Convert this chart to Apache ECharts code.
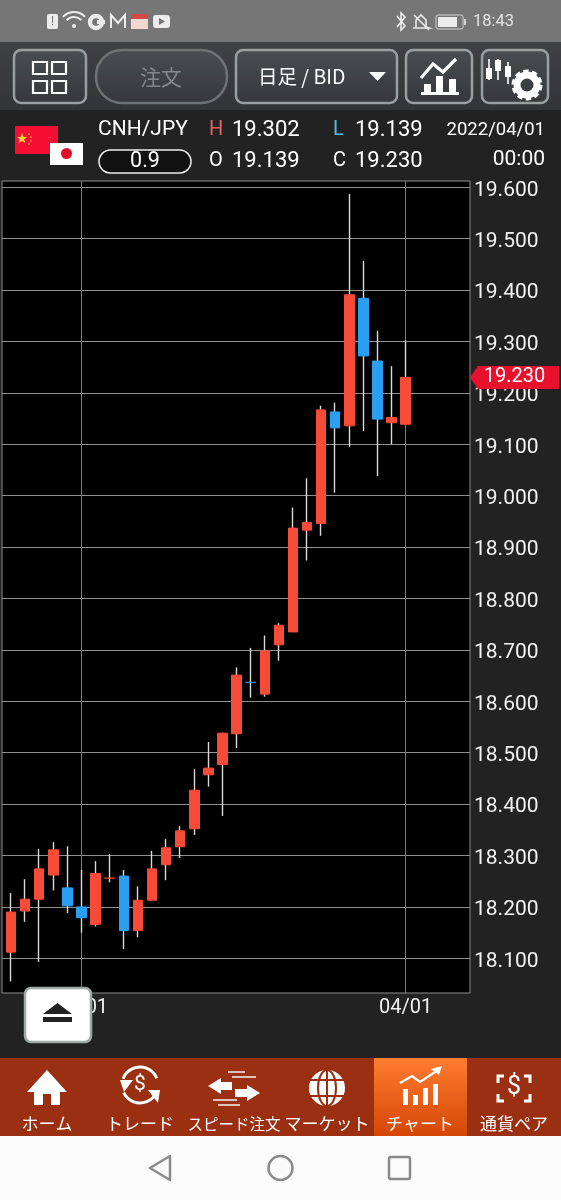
<!DOCTYPE html>
<html>
<head>
<meta charset="utf-8">
<title>CNH/JPY</title>
<script src="https://cdn.jsdelivr.net/npm/echarts@6/dist/echarts.min.js"></script>
<style>
  html, body { margin: 0; padding: 0; background: #222; }
  #chart-container { width: 561px; height: 1200px; }
</style>
</head>
<body>
<div id="chart-container"></div>
<script>
const fechas = ['02/22','02/23','02/24','02/25','02/28','03/01','03/02','03/03','03/04','03/07','03/08','03/09','03/10','03/11','03/14','03/15','03/16','03/17','03/18','03/21','03/22','03/23','03/24','03/25','03/28','03/29','03/30','03/31','04/01'];
const opens  = [18.112,18.192,18.215,18.262,18.237,18.200,18.166,18.2555,18.260,18.154,18.213,18.282,18.317,18.352,18.457,18.477,18.537,18.6375,18.614,18.710,18.735,18.933,18.946,19.163,19.136,19.384,19.262,19.142,19.139];
const closes = [18.190,18.215,18.274,18.311,18.202,18.179,18.265,18.2565,18.154,18.213,18.274,18.315,18.348,18.427,18.470,18.538,18.651,18.6365,18.698,18.748,18.937,18.948,19.167,19.132,19.391,19.272,19.149,19.152,19.230];
const lows   = [18.055,18.171,18.093,18.232,18.188,18.150,18.162,18.248,18.118,18.141,18.213,18.252,18.295,18.340,18.434,18.377,18.509,18.607,18.609,18.679,18.735,18.874,18.922,19.006,19.095,19.126,19.038,19.100,19.139];
const highs  = [18.227,18.254,18.313,18.326,18.318,18.272,18.289,18.303,18.272,18.240,18.309,18.332,18.357,18.468,18.521,18.539,18.666,18.704,18.728,18.752,18.977,19.034,19.175,19.181,19.587,19.457,19.321,19.252,19.302];
const precios = [18.1,18.2,18.3,18.4,18.5,18.6,18.7,18.8,18.9,19.0,19.1,19.2,19.3,19.4,19.5,19.6];
const fechasMarcadas = ['03/01','04/01'];

const ROJO = '#f54b37';
const AZUL = '#2a9ff2';
const FUENTE = 'Roboto, sans-serif';
const FUENTE_JP = '"Noto Sans CJK JP", sans-serif';
const X_MIN = -0.64;
const X_MAX = 32.56;

let myChart = echarts.init(document.getElementById('chart-container'), null, { renderer: 'canvas' });

// helpers para la parte de la app que no es grafico
function rect(x, y, w, h, fill, extra) {
  return Object.assign({ type: 'rect', z: 100, shape: { x, y, width: w, height: h }, style: { fill } }, extra || {});
}
function caja(x, y, w, h, r, fill, stroke, lw) {
  return { type: 'rect', z: 100, shape: { x, y, width: w, height: h, r }, style: { fill, stroke, lineWidth: lw } };
}
function texto(text, x, y, fill, size, align, fuente) {
  return { type: 'text', z: 102, style: { text, x, y, fill, font: size + 'px ' + (fuente || FUENTE), textAlign: align || 'left', textVerticalAlign: 'middle' } };
}
function poli(points, fill) {
  return { type: 'polygon', z: 102, shape: { points }, style: { fill } };
}
function linea(points, stroke, lw) {
  return { type: 'polyline', z: 102, shape: { points }, style: { stroke, lineWidth: lw, fill: 'none' } };
}
function circ(cx, cy, r, fill, stroke, lw, dash) {
  return { type: 'circle', z: 102, shape: { cx, cy, r }, style: { fill, stroke, lineWidth: lw || 0, lineDash: dash } };
}
function arco(cx, cy, r, a, b, stroke, lw) {
  return { type: 'arc', z: 102, shape: { cx, cy, r, startAngle: a, endAngle: b }, style: { stroke, lineWidth: lw, fill: 'none' } };
}
function grad(c1, c2) {
  return new echarts.graphic.LinearGradient(0, 0, 0, 1, [{ offset: 0, color: c1 }, { offset: 1, color: c2 }]);
}

function barraEstado() {
  const c = '#ececec';
  return [
    rect(0, 0, 561, 42, '#767676'),
    caja(47, 14, 11, 15, 2, c), texto('!', 52.5, 21.5, '#767676', 12, 'center'),
    arco(74, 27, 15, -2.4, -0.75, c, 2), arco(74, 27, 10, -2.4, -0.75, c, 2), circ(74, 26, 2, c),
    circ(96, 22, 6, 'none', c, 4.5),
    rect(97, 20, 8, 4, c),
    linea([[111, 28], [111, 15], [118, 23], [125, 15], [125, 28]], c, 2),
    rect(131, 17, 17, 12, '#f0d8d0'), rect(131, 14, 17, 5, '#d04a4a'),
    caja(153, 15, 17, 13, 3, c), poli([[159, 18], [159, 25], [165, 21.5]], '#767676'),
    linea([[397, 16], [405, 26], [401, 30], [401, 13], [405, 17], [397, 27]], c, 1.6),
    linea([[416, 27], [416, 20], [421, 15], [426, 20], [426, 27], [429, 28], [413, 28]], c, 1.6),
    linea([[414, 15], [429, 30]], c, 1.6),
    caja(436, 15, 27, 14, 2, 'none', '#d0d0d0', 1),
    rect(438, 17, 19, 10, c),
    rect(464, 19, 2, 6, '#d0d0d0'),
    texto('18:43', 514, 22, '#e4e4e4', 16.5, 'right')
  ];
}

function barraHerramientas() {
  const borde = '#9aa0a0';
  const fondo = grad('#4b4e50', '#35373a');
  const els = [
    rect(0, 42, 561, 68, grad('#3f4143', '#323436')),
    caja(14, 50, 72, 53, 7, fondo, borde, 2.5),
    caja(96, 50, 131, 53, 26, fondo, '#6f7374', 2.5),
    caja(236, 50, 161, 53, 7, fondo, borde, 2.5),
    caja(406, 50, 66, 53, 7, fondo, borde, 2.5),
    caja(482, 50, 66, 53, 7, fondo, borde, 2.5),
    texto('注文', 161, 77, '#85888a', 21, 'center', FUENTE_JP),
    texto('日足 / BID', 258, 77, '#ffffff', 19.5, 'left', FUENTE_JP),
    poli([[369, 72], [386, 72], [377.5, 81]], '#ffffff')
  ];
  // cuatro cuadros
  [[33, 62], [52, 62], [33, 81], [52, 81]].forEach(([x, y]) => {
    els.push({ type: 'rect', z: 102, shape: { x, y, width: 14, height: 12 }, style: { fill: 'none', stroke: '#fff', lineWidth: 2.2 } });
  });
  // icono grafico
  els.push(
    rect(421, 92, 38, 3, '#fff', { z: 102 }),
    rect(424, 84, 7, 8, '#fff', { z: 102 }),
    rect(436, 76, 7, 16, '#fff', { z: 102 }),
    rect(449, 79, 7, 13, '#fff', { z: 102 }),
    linea([[421, 78], [433, 64], [443, 72], [456, 59]], '#fff', 3.2)
  );
  // icono velas y engranaje
  [[489, 68, 61, 75, 59, 80], [498, 60, 67, 70, 59, 80], [508, 66, 73, 78, 62, 84]].forEach(([x, y, h2, h3, a, b]) => {
    els.push(linea([[x, a], [x, b]], '#fff', 1.6));
    els.push(rect(x - 3, y, 6, 11, '#fff', { z: 102 }));
  });
  els.push(circ(527, 85, 13, 'none', '#fff', 5, [5, 3.2]), circ(527, 85, 10, 'none', '#fff', 7));
  return els;
}

function cabecera() {
  return [
    rect(0, 110, 561, 70, '#222222'),
    rect(15, 126, 43, 28, '#f70f33'),
    poli([[22, 133], [23.5, 137], [27, 137], [24, 139.5], [25.5, 143], [22, 141], [18.5, 143], [20, 139.5], [17, 137], [20.5, 137]], '#ffd93b'),
    circ(29, 134, 0.8, '#ffd93b'), circ(31, 137, 0.8, '#ffd93b'), circ(31, 141, 0.8, '#ffd93b'), circ(29, 144, 0.8, '#ffd93b'),
    rect(50, 143, 33, 22, '#ffffff'),
    circ(66.5, 153.5, 5.5, '#e0102a'),
    texto('CNH/JPY', 98, 130, '#ffffff', 21),
    caja(99, 150, 92, 23, 11.5, '#111', '#f0f0f0', 1.5),
    texto('0.9', 145, 162, '#ffffff', 21.5, 'center'),
    texto('H', 209, 130, '#e86060', 20),
    texto('19.302', 232, 130, '#ffffff', 22),
    texto('L', 333, 130, '#50c0ea', 20),
    texto('19.139', 355, 130, '#ffffff', 22),
    texto('O', 209, 161, '#ffffff', 20),
    texto('19.139', 232, 161, '#ffffff', 22),
    texto('C', 333, 161, '#ffffff', 20),
    texto('19.230', 355, 161, '#ffffff', 22),
    texto('2022/04/01', 545, 130, '#ffffff', 18.5, 'right'),
    texto('00:00', 545, 160, '#ffffff', 21, 'right')
  ];
}

function botonExpulsar() {
  return [
    caja(25, 988, 66, 54, 6, '#ffffff', '#a0a8a8', 2.5),
    poli([[43, 1014], [72, 1014], [57.5, 1003]], '#222'),
    rect(43, 1017, 29, 5, '#222', { z: 102 })
  ];
}

function navegacion() {
  const b = '#ffffff';
  const f = '#9b2f12';
  const els = [
    rect(0, 1058, 561, 78, f),
    rect(374, 1058, 93, 78, grad('#ff7d31', '#d44605')),
    // inicio
    poli([[27, 1092], [47, 1070], [67, 1092]], b),
    rect(34, 1090, 26, 15, b, { z: 102 }),
    rect(43, 1094, 8, 11, f, { z: 103 }),
    // trade
    arco(140, 1085, 18, 3.5, 5.9, b, 3), arco(140, 1085, 18, 0.4, 2.7, b, 3),
    poli([[120, 1080], [133, 1080], [124, 1092]], b), poli([[148, 1090], [160, 1090], [158, 1103]], b),
    texto('$', 140, 1085, b, 21, 'center'),
    // speed
    poli([[208, 1086], [221, 1078], [221, 1082], [232, 1082], [232, 1090], [221, 1090], [221, 1094]], b),
    poli([[260, 1093], [247, 1085], [247, 1089], [235, 1089], [235, 1097], [247, 1097], [247, 1101]], b),
    linea([[228, 1072], [245, 1072]], b, 1.4), linea([[232, 1077], [256, 1077]], b, 1.4),
    linea([[213, 1100], [237, 1100]], b, 1.4), linea([[218, 1105], [240, 1105]], b, 1.4),
    // mundo
    circ(327, 1088, 18, b),
    linea([[309, 1080], [345, 1080]], f, 2), linea([[309, 1096], [345, 1096]], f, 2), linea([[327, 1070], [327, 1106]], f, 2),
    { type: 'ellipse', z: 103, shape: { cx: 327, cy: 1088, rx: 9, ry: 18 }, style: { fill: 'none', stroke: f, lineWidth: 2 } },
    // chart
    rect(403, 1089, 5, 16, b, { z: 102 }), rect(413, 1095, 5, 10, b, { z: 102 }), rect(423, 1088, 5, 17, b, { z: 102 }), rect(433, 1084, 5, 21, b, { z: 102 }),
    linea([[400, 1083], [412, 1076], [420, 1082], [438, 1070]], b, 2.2),
    poli([[431, 1069], [442, 1066], [439, 1075]], b),
    // pares
    linea([[504, 1076], [498, 1076], [498, 1083]], b, 3), linea([[524, 1076], [530, 1076], [530, 1083]], b, 3),
    linea([[498, 1094], [498, 1101], [504, 1101]], b, 3), linea([[530, 1094], [530, 1101], [524, 1101]], b, 3),
    texto('$', 514, 1088, b, 25, 'center')
  ];
  [['ホーム', 47, 17], ['トレード', 140, 17], ['スピード注文', 234, 15.5], ['マーケット', 327, 17], ['チャート', 420, 17], ['通貨ペア', 514, 17]].forEach(([t, x, s]) => {
    els.push(texto(t, x, 1124, b, s, 'center', FUENTE_JP));
  });
  // barra del sistema
  els.push(
    rect(0, 1136, 561, 64, '#fbfbfb'),
    { type: 'polygon', z: 102, shape: { points: [[150, 1168], [170, 1156], [170, 1180]] }, style: { fill: 'none', stroke: '#8a8a8a', lineWidth: 2.5, lineJoin: 'round' } },
    circ(280.5, 1168, 12, 'none', '#8a8a8a', 2.5),
    { type: 'rect', z: 102, shape: { x: 389, y: 1157, width: 21, height: 22, r: 2 }, style: { fill: 'none', stroke: '#8a8a8a', lineWidth: 2.5 } }
  );
  return els;
}

const ejeX = fechas.map((f, i) => i);
const marcas = fechasMarcadas.map(f => fechas.indexOf(f));

const opciones = {
  backgroundColor: '#222222',
  animation: false,
  grid: {
    left: 2, top: 181, width: 468, height: 812,
    show: true, backgroundColor: '#000000', borderColor: '#8c8c8c', borderWidth: 1
  },
  xAxis: {
    type: 'value',
    min: X_MIN,
    max: X_MAX,
    axisLine: { show: false },
    axisTick: { show: false, customValues: marcas },
    splitLine: { show: true, lineStyle: { color: '#7c7c7c', width: 1 } },
    axisLabel: {
      customValues: marcas,
      formatter: v => fechas[v],
      color: '#f0f0f0',
      fontFamily: 'Roboto',
      fontSize: 20,
      margin: 5
    }
  },
  yAxis: {
    type: 'value',
    position: 'right',
    min: 18.0325,
    max: 19.6123,
    axisLine: { show: false },
    axisTick: { show: false, customValues: precios },
    splitLine: { show: true, lineStyle: { color: '#8f8f8f', width: 1 } },
    axisLabel: {
      customValues: precios,
      formatter: v => '{n|' + v.toFixed(3) + '}',
      margin: 4,
      rich: {
        // la etiqueta queda 3px mas baja que la linea
        n: { color: '#f2f2f2', fontFamily: 'Roboto', fontSize: 21, padding: [6, 0, 0, 0] }
      }
    }
  },
  series: [
    {
      // mechas
      type: 'candlestick',
      barWidth: 1,
      clip: false,
      data: ejeX.map(i => [i, opens[i], closes[i], lows[i], highs[i]]),
      itemStyle: { color: '#d9d9d9', color0: '#d9d9d9', borderColor: '#d9d9d9', borderColor0: '#d9d9d9', borderWidth: 1.4 }
    },
    {
      // cuerpos
      type: 'candlestick',
      barWidth: 10,
      clip: false,
      data: ejeX.map(i => {
        const valor = [i, opens[i], closes[i], Math.min(opens[i], closes[i]), Math.max(opens[i], closes[i])];
        // los doji casi no se ven en la captura
        return Math.abs(opens[i] - closes[i]) < 0.002 ? { value: valor, itemStyle: { borderWidth: 0.6 } } : valor;
      }),
      itemStyle: { color: ROJO, color0: AZUL, borderColor: ROJO, borderColor0: AZUL, borderWidth: 1 },
      markPoint: {
        z: 20,
        symbol: 'path://M0 12 L8 0 L89 0 L89 24 L8 24 Z',
        symbolKeepAspect: false,
        symbolSize: [89, 23],
        symbolOffset: [44.5, 0],
        itemStyle: { color: '#e8112d' },
        label: {
          show: true,
          position: 'inside',
          formatter: p => p.value.toFixed(3),
          color: '#ffffff',
          fontFamily: 'Roboto',
          fontSize: 20
        },
        data: [{ coord: [X_MAX, closes[closes.length - 1]], value: closes[closes.length - 1] }]
      }
    }
  ],
  graphic: { elements: [].concat(barraEstado(), barraHerramientas(), cabecera(), botonExpulsar(), navegacion()) }
};

myChart.setOption(opciones);
window.addEventListener('resize', myChart.resize);
</script>
</body>
</html>
